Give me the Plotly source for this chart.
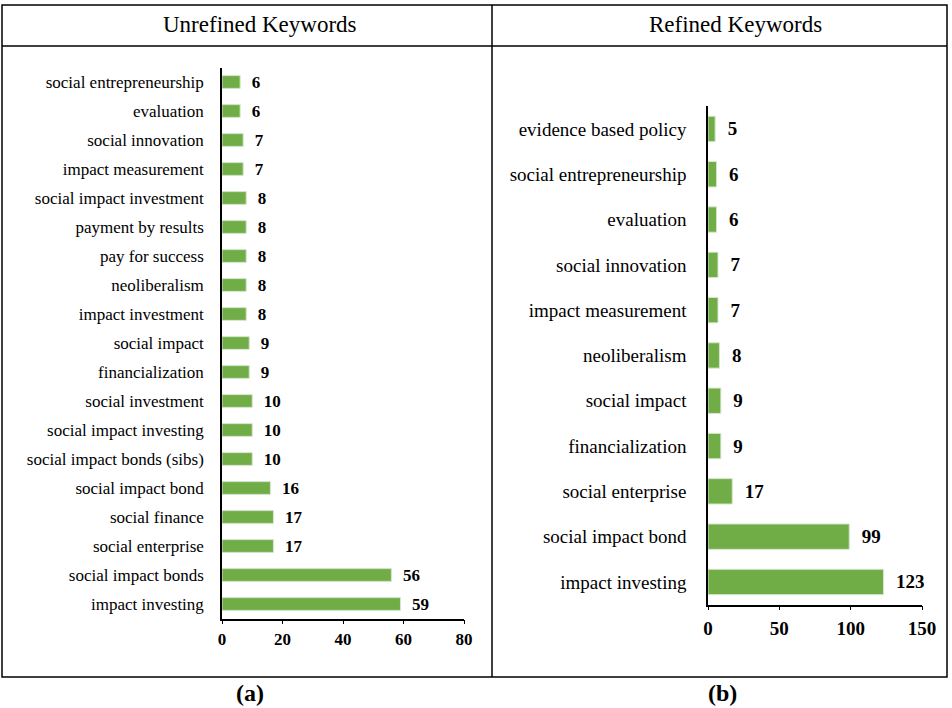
import plotly.graph_objects as go

W, H = 952, 708

unrefined_keywords = [
    "social entrepreneurship", "evaluation", "social innovation", "impact measurement",
    "social impact investment", "payment by results", "pay for success", "neoliberalism",
    "impact investment", "social impact", "financialization", "social investment",
    "social impact investing", "social impact bonds (sibs)", "social impact bond",
    "social finance", "social enterprise", "social impact bonds", "impact investing",
]
unrefined_counts = [6, 6, 7, 7, 8, 8, 8, 8, 8, 9, 9, 10, 10, 10, 16, 17, 17, 56, 59]

refined_keywords = [
    "evidence based policy", "social entrepreneurship", "evaluation", "social innovation",
    "impact measurement", "neoliberalism", "social impact", "financialization",
    "social enterprise", "social impact bond", "impact investing",
]
refined_counts = [5, 6, 6, 7, 7, 8, 9, 9, 17, 99, 123]

left_ticks = [0, 20, 40, 60, 80]
right_ticks = [0, 50, 100, 150]

GREEN = "#70AD47"
FONT = "Liberation Serif"


def px_x(v):
    return v / W


def px_y(v):
    return 1 - v / H


fig = go.Figure()

fig.add_trace(go.Bar(
    x=unrefined_counts, y=unrefined_keywords, orientation="h",
    marker=dict(color=GREEN, line=dict(color="#d6e6cc", width=1)),
    width=0.44, text=unrefined_counts, texttemplate="  %{x}", textposition="outside",
    cliponaxis=False, constraintext="none",
    textfont=dict(family=FONT, size=17, color="black", weight="bold"),
    xaxis="x", yaxis="y", hoverinfo="skip",
))
fig.add_trace(go.Bar(
    x=refined_counts, y=refined_keywords, orientation="h",
    marker=dict(color=GREEN, line=dict(color="#d6e6cc", width=1)),
    width=0.56, text=refined_counts, texttemplate="  %{x}", textposition="outside",
    cliponaxis=False, constraintext="none",
    textfont=dict(family=FONT, size=19, color="black", weight="bold"),
    xaxis="x2", yaxis="y2", hoverinfo="skip",
))

axis_common = dict(showgrid=False, zeroline=False, linecolor="black", linewidth=1.5,
                   showline=True, fixedrange=True, automargin=False)

fig.update_layout(
    template="none",
    width=W, height=H, autosize=False, margin=dict(l=0, r=0, t=0, b=0, pad=0),
    paper_bgcolor="white", plot_bgcolor="white", showlegend=False,
    font=dict(family=FONT, color="black"),
    xaxis=dict(domain=[px_x(222), px_x(464)], range=[0, 80], tickvals=left_ticks,
               ticks="outside", ticklen=4, tickcolor="black", tickwidth=1,
               tickfont=dict(family=FONT, size=17, weight="bold"), ticklabelstandoff=0,
               anchor="y", **axis_common),
    yaxis=dict(domain=[px_y(618.5), px_y(67.5)], range=[len(unrefined_keywords) - 0.5, -0.5],
               type="category", ticks="", tickfont=dict(family=FONT, size=17),
               ticklabelstandoff=13, anchor="x", **axis_common),
    xaxis2=dict(domain=[px_x(708), px_x(922)], range=[0, 150], tickvals=right_ticks,
                ticks="outside", ticklen=4, tickcolor="black", tickwidth=1,
                tickfont=dict(family=FONT, size=19, weight="bold"), ticklabelstandoff=2,
                anchor="y2", **axis_common),
    yaxis2=dict(domain=[px_y(604.6), px_y(106.3)], range=[len(refined_keywords) - 0.5, -0.5],
                type="category", ticks="", tickfont=dict(family=FONT, size=19),
                ticklabelstandoff=16, anchor="x2", **axis_common),
)

# panel borders
line = dict(color="black", width=1.5)
fig.add_shape(type="rect", xref="paper", yref="paper",
              x0=px_x(2), x1=px_x(947), y0=px_y(677), y1=px_y(5), line=line)
fig.add_shape(type="line", xref="paper", yref="paper",
              x0=px_x(2), x1=px_x(947), y0=px_y(46), y1=px_y(46), line=line)
fig.add_shape(type="line", xref="paper", yref="paper",
              x0=px_x(492), x1=px_x(492), y0=px_y(677), y1=px_y(5), line=line)

ann = dict(xref="paper", yref="paper", showarrow=False, xanchor="center", yanchor="middle")
fig.add_annotation(text="Unrefined Keywords", x=px_x(260), y=px_y(25),
                   font=dict(family=FONT, size=23), **ann)
fig.add_annotation(text="Refined Keywords", x=px_x(735), y=px_y(25),
                   font=dict(family=FONT, size=23), **ann)
fig.add_annotation(text="<b>(a)</b>", x=px_x(250), y=px_y(693),
                   font=dict(family=FONT, size=24), **ann)
fig.add_annotation(text="<b>(b)</b>", x=px_x(722), y=px_y(693),
                   font=dict(family=FONT, size=24), **ann)

fig.write_html(
    "out.html",
    config={"responsive": False, "displayModeBar": False},
    post_script="document.body.style.margin='0';document.body.style.overflow='hidden';",
)
